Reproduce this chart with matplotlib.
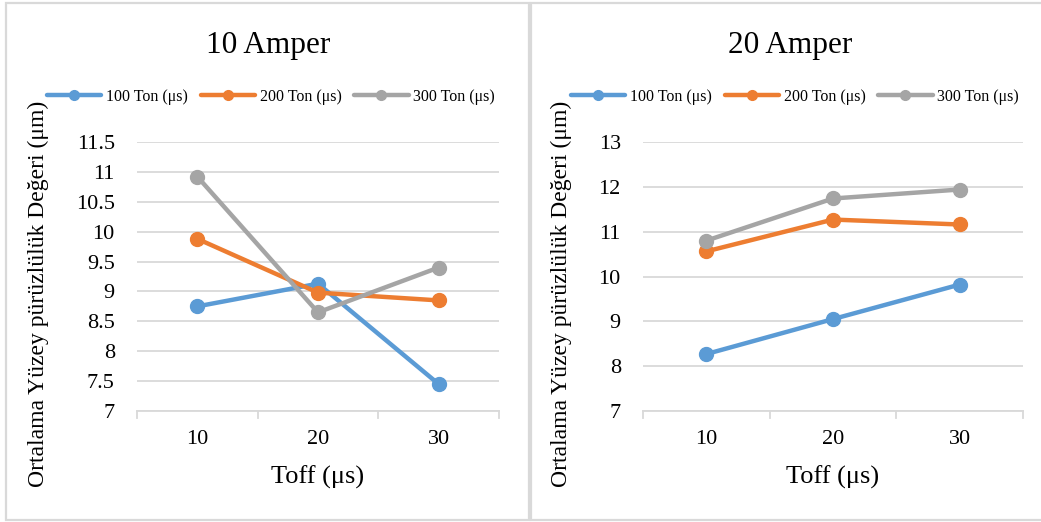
import matplotlib
matplotlib.use("Agg")
import matplotlib.pyplot as plt
from matplotlib.patches import Rectangle

SERIF = ['Liberation Serif', 'DejaVu Serif']
plt.rcParams['font.family'] = SERIF
plt.rcParams['font.serif'] = SERIF

# Data: average surface roughness vs Toff for three Ton settings
toff = ["10", "20", "30"]
series_names = ["100 Ton (μs)", "200 Ton (μs)", "300 Ton (μs)"]
colors = ["#5B9BD5", "#ED7D31", "#A5A5A5"]

amp10_ton100 = [8.75, 9.13, 7.45]
amp10_ton200 = [9.88, 8.98, 8.85]
amp10_ton300 = [10.92, 8.65, 9.40]

amp20_ton100 = [8.27, 9.05, 9.82]
amp20_ton200 = [10.56, 11.27, 11.16]
amp20_ton300 = [10.80, 11.74, 11.94]

titles = ["10 Amper", "20 Amper"]
y_ticks_10 = [7, 7.5, 8, 8.5, 9, 9.5, 10, 10.5, 11, 11.5]
y_ticks_20 = [7, 8, 9, 10, 11, 12, 13]
ylabel = "Ortalama Yüzey pürüzlülük Değeri (μm)"
xlabel = "Toff (μs)"

W, H = 1041, 522
fig = plt.figure(figsize=(W / 100, H / 100), dpi=100)


def px_box(x0, y0, x1, y1):
    # convert a pixel box (top-left origin) into figure fractions
    return [x0 / W, 1 - y1 / H, (x1 - x0) / W, (y1 - y0) / H]


# panel frames
for (x0, x1) in [(6, 529), (531, 1046)]:
    b = px_box(x0, 3, x1, 520)
    fig.patches.append(Rectangle((b[0], b[1]), b[2], b[3], transform=fig.transFigure,
                                 facecolor="white", edgecolor="#D9D9D9", linewidth=1.6,
                                 zorder=-10))

panels = [
    dict(box=(137, 142, 499, 411), data=[amp10_ton100, amp10_ton200, amp10_ton300],
         ticks=y_ticks_10, ylim=(7, 11.5), title_x=268, legend_x=271, ylab_x=38),
    dict(box=(643, 142, 1023, 411), data=[amp20_ton100, amp20_ton200, amp20_ton300],
         ticks=y_ticks_20, ylim=(7, 13), title_x=790, legend_x=795, ylab_x=561),
]

for i, p in enumerate(panels):
    ax = fig.add_axes(px_box(*p["box"]))
    ax.set_zorder(1)
    ax.patch.set_alpha(0)
    x = range(len(toff))
    lines = []
    for vals, name, c in zip(p["data"], series_names, colors):
        ln, = ax.plot(x, vals, color=c, lw=3.2, marker="o", markersize=10,
                      label=name, solid_capstyle="round", clip_on=False, zorder=3)
        lines.append(ln)
    ax.set_xlim(-0.5, len(toff) - 0.5)
    ax.set_ylim(*p["ylim"])
    ax.set_yticks(p["ticks"])
    ax.set_yticklabels(["{:g}".format(t) for t in p["ticks"]], fontfamily=SERIF)
    ax.set_xticks(list(x))
    ax.set_xticklabels(toff, fontfamily=SERIF)
    ax.grid(axis="y", color="#D9D9D9", lw=1.3)
    ax.set_axisbelow(True)
    for s in ["top", "right", "left"]:
        ax.spines[s].set_visible(False)
    ax.spines["bottom"].set_color("#D9D9D9")
    ax.spines["bottom"].set_linewidth(1.3)
    ax.tick_params(axis="y", length=0, pad=16, labelsize=16)
    ax.tick_params(axis="x", length=0, pad=14, labelsize=16)
    # category boundary ticks on the x axis
    for xb in [-0.5, 0.5, 1.5, 2.5]:
        ax.plot([xb, xb], [0, -0.025], transform=ax.get_xaxis_transform(),
                color="#D9D9D9", lw=1.3, clip_on=False)

    fig.text(p["title_x"] / W, 1 - 45 / H, titles[i], ha="center", va="center",
             fontsize=22.5, fontfamily=SERIF)
    cx = (p["box"][0] + p["box"][2]) / 2
    fig.text(cx / W, 1 - 477 / H, xlabel, ha="center", va="center", fontsize=19,
             fontfamily=SERIF)
    fig.text(p["ylab_x"] / W, 1 - 294 / H, ylabel, ha="center", va="center",
             rotation=90, fontsize=17, fontfamily=SERIF)

    fig.legend(handles=lines, loc="center", ncol=3, frameon=False,
               bbox_to_anchor=(p["legend_x"] / W, 1 - 97 / H),
               prop={"family": SERIF, "size": 11.5},
               handlelength=3.4, handletextpad=0.3, columnspacing=0.8,
               borderaxespad=0)
    for lh in fig.legends[-1].legend_handles:
        lh.set_markersize(7)

fig.savefig("out.png", dpi=100)
